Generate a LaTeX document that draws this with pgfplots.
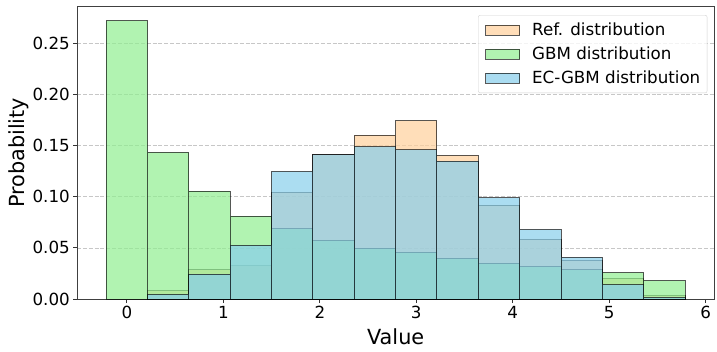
\documentclass[border=0pt]{standalone}
\usepackage{fontspec}
\setmainfont{DejaVu Sans}
\usepackage{pgfplots}
\pgfplotsset{compat=1.18}
\definecolor{refc}{RGB}{255,208,155}
\definecolor{gbmc}{RGB}{144,238,144}
\definecolor{ecc}{RGB}{135,206,235}
\begin{document}
\begin{tikzpicture}
\useasboundingbox (-77.3pt,-52pt) rectangle (639.7pt,299pt);
\begin{axis}[
  at={(0,0)}, anchor=south west,
  scale only axis,
  width=636.7pt, height=292.3pt,
  xmin=-0.514, xmax=6.086,
  ymin=0, ymax=0.2858,
  xtick={0,1,2,3,4,5,6},
  ytick={0,0.05,0.10,0.15,0.20,0.25},
  yticklabel style={/pgf/number format/fixed,/pgf/number format/fixed zerofill,/pgf/number format/precision=2},
  /pgf/number format/assume math mode=true,
  tick label style={font=\fontsize{16.7}{20}\selectfont},
  tick align=outside, tick pos=left,
  major tick length=4pt,
  every tick/.style={black!80, line width=0.8pt},
  axis line style={black!75, line width=0.8pt},
  ymajorgrids,
  grid style={dash pattern=on 4pt off 1.8pt, black!22, line width=0.7pt},
  xlabel={Value}, ylabel={Probability},
  label style={font=\fontsize{20.8}{24}\selectfont},
  xlabel style={at={(axis description cs:0.5,-0.128)}, anchor=center},
  ylabel style={at={(axis description cs:-0.0916,0.5)}, anchor=center},
  legend image code/.code={\path[draw=none,fill=none] (-0.2pt,-12pt) rectangle (46.6pt,12pt);\draw[#1,sharp corners] (0pt,-5pt) rectangle (34pt,5pt);},
  legend style={at={(0.9895,0.9716)}, anchor=north east, draw=black!18, rounded corners=2pt,
    font=\fontsize{16.7}{20}\selectfont, row sep=0pt, inner xsep=6.8pt, inner ysep=2.85pt,
    nodes={inner sep=0pt},
    fill=white, fill opacity=0.8, text opacity=1},
  legend cell align=left,
]
\addplot[ybar interval, fill=refc, fill opacity=0.7, draw=black, draw opacity=0.65, line width=1pt]
coordinates {
(0.2143,0.0081) (0.6429,0.0284) (1.0714,0.0323) (1.5,0.1043) (1.9286,0.1408)
(2.3571,0.1603) (2.7857,0.1743) (3.2143,0.1405) (3.6429,0.0919) (4.0714,0.0584)
(4.5,0.0375) (4.9286,0.0202) (5.3571,0.0036) (5.7857,0.0036)};
\addlegendentry{Ref. distribution}
\addplot[ybar interval, fill=gbmc, fill opacity=0.7, draw=black, draw opacity=0.65, line width=1pt]
coordinates {
(-0.2143,0.2721) (0.2143,0.1434) (0.6429,0.1056) (1.0714,0.0811) (1.5,0.0688) (1.9286,0.0574)
(2.3571,0.0496) (2.7857,0.0457) (3.2143,0.0398) (3.6429,0.0349) (4.0714,0.0316)
(4.5,0.0284) (4.9286,0.0257) (5.3571,0.0179) (5.7857,0.0179)};
\addlegendentry{GBM distribution}
\addplot[ybar interval, fill=ecc, fill opacity=0.7, draw=black, draw opacity=0.65, line width=1pt]
coordinates {
(0.2143,0.0046) (0.6429,0.0244) (1.0714,0.0525) (1.5,0.1245) (1.9286,0.1408)
(2.3571,0.1489) (2.7857,0.1457) (3.2143,0.1349) (3.6429,0.0990) (4.0714,0.0678)
(4.5,0.0408) (4.9286,0.0140) (5.3571,0.0016) (5.7857,0.0016)};
\addlegendentry{EC-GBM distribution}
\end{axis}
\end{tikzpicture}
\end{document}
